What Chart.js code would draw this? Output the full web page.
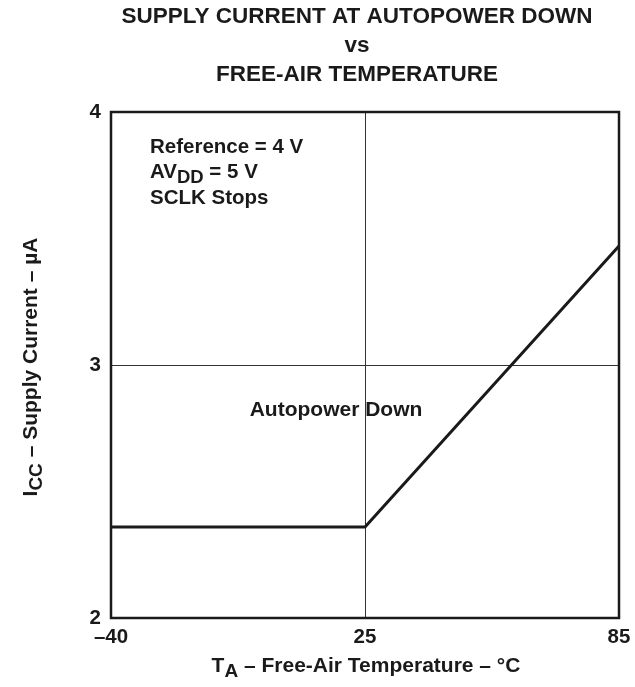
<!DOCTYPE html>
<html>
<head>
<meta charset="utf-8">
<script src="https://cdn.jsdelivr.net/npm/chart.js@4.4.1/dist/chart.umd.min.js"></script>
<style>
  html, body { margin: 0; padding: 0; background: #fff; }
  #wrap { width: 635px; height: 687px; position: relative; }
</style>
</head>
<body>
<div id="wrap"><canvas id="chart"></canvas></div>
<script>
// temperature breakpoints (°C) and supply current at each (µA)
const tempLabels = ['–40', '25', '85'];
const supplyCurrent = [2.36, 2.36, 3.47];
const yTicks = [2, 3, 4];

const FONT = '"Liberation Sans", Arial, Helvetica, sans-serif';
const INK = '#1a1a1a';

// draws a run of text pieces, some of them as subscripts
function drawRich(ctx, parts, x, y, size, align) {
    const subSize = size - 2;
    const widths = parts.map(p => {
        ctx.font = `bold ${p.sub ? subSize : size}px ${FONT}`;
        return ctx.measureText(p.t).width;
    });
    const total = widths.reduce((a, b) => a + b, 0);
    let cx = align === 'center' ? x - total / 2 : x;
    parts.forEach((p, i) => {
        ctx.font = `bold ${p.sub ? subSize : size}px ${FONT}`;
        ctx.fillText(p.t, cx, p.sub ? y + 5 : y);
        cx += widths[i];
    });
}

const labelsPlugin = {
    id: 'labelsPlugin',
    afterDraw(chart) {
        const { ctx, chartArea: a } = chart;
        ctx.save();
        // frame around the plot
        ctx.strokeStyle = INK;
        ctx.lineWidth = 2.5;
        ctx.strokeRect(a.left, a.top, a.right - a.left, a.bottom - a.top);

        ctx.fillStyle = INK;
        ctx.textBaseline = 'alphabetic';
        ctx.textAlign = 'left';

        // heading
        drawRich(ctx, [{ t: 'SUPPLY CURRENT AT AUTOPOWER DOWN' }], 357, 23, 22.5, 'center');
        drawRich(ctx, [{ t: 'vs' }], 357, 52, 22.5, 'center');
        drawRich(ctx, [{ t: 'FREE-AIR TEMPERATURE' }], 357, 81, 22.5, 'center');

        // conditions
        drawRich(ctx, [{ t: 'Reference = 4 V' }], 150, 153, 20.5, 'left');
        drawRich(ctx, [{ t: 'AV' }, { t: 'DD', sub: true }, { t: ' = 5 V' }], 150, 178, 20.5, 'left');
        drawRich(ctx, [{ t: 'SCLK Stops' }], 150, 204, 20.5, 'left');
        drawRich(ctx, [{ t: 'Autopower Down' }], 336, 416, 21, 'center');

        // axis titles
        drawRich(ctx, [{ t: 'T' }, { t: 'A', sub: true }, { t: ' – Free-Air Temperature – °C' }], 366, 672, 21, 'center');
        ctx.translate(37, 367);
        ctx.rotate(-Math.PI / 2);
        drawRich(ctx, [{ t: 'I' }, { t: 'CC', sub: true }, { t: ' – Supply Current – µA' }], 0, 0, 21, 'center');
        ctx.restore();
    }
};

new Chart(document.getElementById('chart'), {
    type: 'line',
    data: {
        labels: tempLabels,
        datasets: [{
            data: supplyCurrent,
            borderColor: INK,
            borderWidth: 3,
            pointRadius: 0,
            tension: 0,
            fill: false
        }]
    },
    options: {
        responsive: true,
        maintainAspectRatio: false,
        animation: false,
        layout: { padding: { top: 112, right: 16, left: 0, bottom: 0 } },
        plugins: { legend: { display: false }, tooltip: { enabled: false } },
        scales: {
            x: {
                type: 'category',
                offset: false,
                grid: { color: '#333', lineWidth: 1, drawTicks: false },
                border: { display: false },
                ticks: {
                    padding: 7,
                    color: INK,
                    maxRotation: 0,
                    font: { family: FONT, size: 20.5, weight: 'bold' }
                },
                afterFit: s => {
                    s.height = 69;
                    s.paddingLeft = 0;
                    s.paddingRight = 0;
                }
            },
            y: {
                min: 2,
                max: 4,
                afterBuildTicks: s => { s.ticks = yTicks.map(v => ({ value: v })); },
                grid: { color: '#333', lineWidth: 1, drawTicks: false },
                border: { display: false },
                ticks: {
                    padding: 10,
                    color: INK,
                    font: { family: FONT, size: 20.5, weight: 'bold' }
                },
                afterFit: s => { s.width = 111; }
            }
        }
    },
    plugins: [labelsPlugin]
});
</script>
</body>
</html>
